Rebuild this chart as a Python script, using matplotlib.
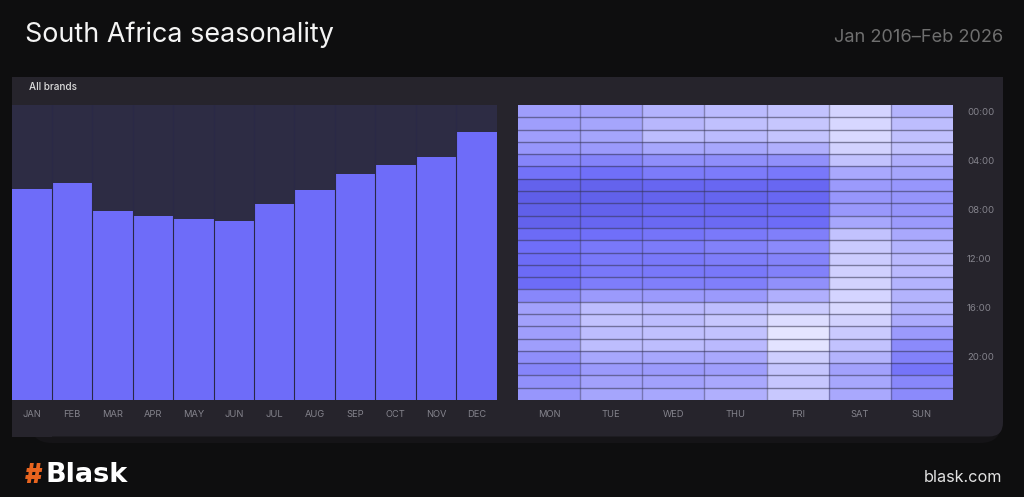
import matplotlib
matplotlib.use("Agg")
import matplotlib.pyplot as plt
from matplotlib.colors import LinearSegmentedColormap
from matplotlib.patches import FancyBboxPatch
import numpy as np

plt.rcParams['font.family'] = ['Inter', 'DejaVu Sans']

W, H = 1024, 497

months = ['JAN', 'FEB', 'MAR', 'APR', 'MAY', 'JUN', 'JUL', 'AUG', 'SEP', 'OCT', 'NOV', 'DEC']
month_values = [71.5, 73.4, 64.1, 62.4, 61.2, 60.7, 66.4, 71.2, 76.6, 79.7, 82.4, 90.8]

days = ['MON', 'TUE', 'WED', 'THU', 'FRI', 'SAT', 'SUN']
hour_labels = ['00:00', '04:00', '08:00', '12:00', '16:00', '20:00']

mon = [.40, .40, .40, .36, .27, .17, .06, .03, .04, .06, .13, .15, .14, .13, .14, .28, .42, .42, .40, .40, .32, .27, .33, .36]
tue = [.42, .44, .44, .38, .26, .16, .07, .05, .06, .09, .16, .20, .20, .20, .23, .38, .58, .62, .58, .58, .45, .38, .42, .44]
wed = [.52, .55, .58, .45, .32, .22, .09, .07, .09, .11, .18, .22, .20, .20, .24, .38, .56, .58, .60, .58, .45, .38, .42, .45]
thu = [.57, .60, .57, .45, .32, .22, .10, .08, .09, .12, .21, .25, .23, .20, .24, .38, .58, .67, .62, .56, .46, .40, .46, .50]
fri = [.62, .66, .64, .50, .33, .20, .10, .10, .11, .14, .24, .30, .26, .25, .33, .50, .72, .88, .96, .94, .74, .65, .66, .68]
sat = [.80, .82, .84, .78, .62, .46, .38, .36, .37, .45, .62, .70, .72, .75, .78, .80, .84, .78, .70, .62, .52, .42, .45, .46]
sun = [.52, .58, .60, .62, .50, .44, .36, .35, .35, .38, .46, .52, .56, .56, .52, .52, .52, .48, .38, .30, .25, .18, .28, .30]
heat_values = np.array([mon, tue, wed, thu, fri, sat, sun]).T


def px_axes(fig, left, top, right, bottom):
    return fig.add_axes([left / W, 1 - bottom / H, (right - left) / W, (bottom - top) / H])


fig = plt.figure(figsize=(W / 100, H / 100), dpi=100, facecolor='#0e0e0f')

# panel behind the charts, with the faint lower layer
bg = fig.add_axes([0, 0, 1, 1])
bg.set_xlim(0, W)
bg.set_ylim(H, 0)
bg.axis('off')
bg.add_patch(FancyBboxPatch((30, 400), 972, 43, boxstyle='round,pad=0,rounding_size=22',
                            fc='#151417', ec='none'))
bg.add_patch(FancyBboxPatch((12, 77), 991, 359.5, boxstyle='round,pad=0,rounding_size=14',
                            fc='#26242c', ec='none'))
bg.add_patch(plt.Rectangle((12, 77), 40, 40, fc='#26242c', ec='none'))
bg.add_patch(plt.Rectangle((963, 77), 40, 40, fc='#26242c', ec='none'))
bg.add_patch(plt.Rectangle((12, 396), 40, 40.5, fc='#26242c', ec='none'))

# monthly bars
ax = px_axes(fig, 11.5, 105, 496.5, 400)
ax.set_facecolor('#2d2c44')
x = np.arange(len(months))
ax.bar(x, month_values, width=1.0, color='#6e6cf9', edgecolor='none', zorder=2)
for pos in x[1:] - 0.5:
    ax.axvline(pos, color='#2a2946', lw=0.8, zorder=3)
ax.set_xlim(-0.5, 11.5)
ax.set_ylim(0, 100)
ax.set_yticks([])
ax.set_xticks(x, months)
ax.tick_params(axis='x', length=0, pad=7, labelsize=6.7, labelcolor='#85848d')
for s in ax.spines.values():
    s.set_visible(False)

# weekday / hour heatmap
cmap = LinearSegmentedColormap.from_list(
    'blask', [(0, '#5b5be4'), (0.15, '#6f6ef9'), (0.4, '#9f9efc'), (0.6, '#c0c0fe'), (1, '#e9e9ff')])
hx = px_axes(fig, 518, 105, 953, 400)
hx.pcolormesh(heat_values, cmap=cmap, vmin=0, vmax=1, edgecolors='none')
for pos in range(1, 24):
    hx.axhline(pos, color='#33324e', alpha=0.55, lw=1.0)
for pos in range(1, 7):
    hx.axvline(pos, color='#33324e', alpha=0.42, lw=1.0)
hx.set_xlim(0, 7)
hx.set_ylim(24, 0)
hx.set_xticks(np.arange(7) + 0.5, days)
hx.set_yticks(np.arange(0, 24, 4) + 0.5, hour_labels)
hx.yaxis.tick_right()
hx.tick_params(axis='x', length=0, pad=7, labelsize=6.7, labelcolor='#85848d')
hx.tick_params(axis='y', length=0, pad=10, labelsize=6.9, labelcolor='#85848d')
for s in hx.spines.values():
    s.set_visible(False)

# header and footer text
fig.text(25 / W, 1 - 34.5 / H, 'South Africa seasonality', color='#f4f4f4', fontsize=19.4, va='center')
fig.text(1003 / W, 1 - 38 / H, 'Jan 2016–Feb 2026', color='#6f6f6f', fontsize=13.1, ha='right', va='center')
fig.text(29 / W, 1 - 87 / H, 'All brands', color='#dcdcdc', fontsize=7.2, fontweight='medium', va='center')
fig.text(25 / W, 1 - 476 / H, '#', color='#e8641f', fontsize=19, fontweight='black', va='center')
fig.text(46 / W, 1 - 475 / H, 'Blask', color='#ffffff', fontsize=19.5, fontweight='bold',
         family=['DejaVu Sans'], va='center')
fig.text(1002 / W, 1 - 478 / H, 'blask.com', color='#e2e2e2', fontsize=11.7, ha='right', va='center')

fig.savefig('out.png', dpi=100, facecolor=fig.get_facecolor())
